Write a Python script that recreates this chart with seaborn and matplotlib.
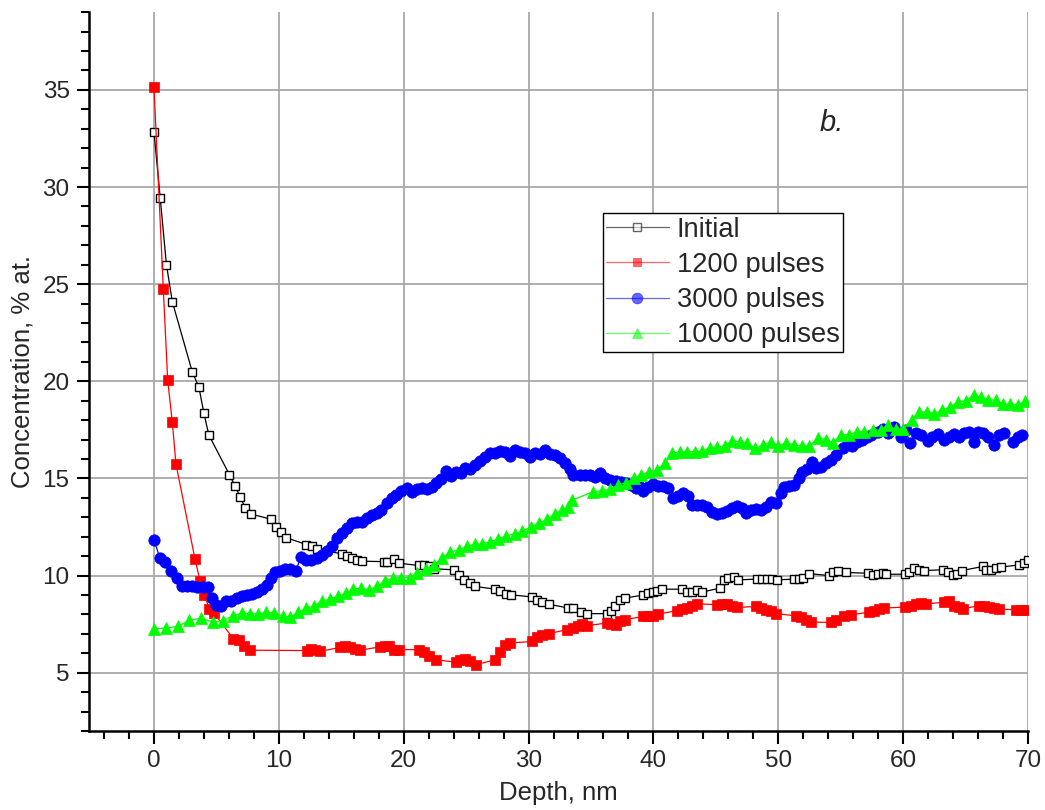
import matplotlib
matplotlib.use("Agg")
import matplotlib.pyplot as plt
from matplotlib.ticker import MultipleLocator
import seaborn as sns
import pandas as pd

# Depth profiles (depth in nm, concentration in % at.)
initial_x = [0.0, 0.5, 1.0, 1.47, 3.07, 3.6, 4.0, 4.4, 6.04, 6.5, 6.9, 7.3, 7.75,
             9.4, 9.75, 10.2, 10.6, 12.2, 12.65, 13.05, 15.05, 15.5, 15.9, 16.3, 16.7,
             18.4, 18.7, 19.2, 19.6, 21.2, 21.6, 22.0, 22.4, 24.0, 24.4, 24.8, 25.3, 25.75,
             27.35, 27.75, 28.2, 28.6, 30.3, 30.7, 31.1, 31.6, 33.2, 33.6, 34.2, 34.7,
             36.25, 36.6, 36.9, 37.3, 37.7, 39.2, 39.6, 39.95, 40.3, 40.7, 42.3, 42.7,
             43.1, 43.5, 43.9, 45.3, 45.65, 45.95, 46.45, 46.8, 48.3, 48.7, 49.1, 49.5,
             49.9, 51.3, 51.7, 52.0, 52.5, 54.1, 54.4, 54.8, 55.4, 57.15, 57.55, 57.95,
             58.35, 58.6, 60.15, 60.5, 60.9, 61.3, 61.7, 63.2, 63.6, 64.0, 64.3, 64.7,
             66.4, 66.6, 67.0, 67.4, 67.85, 69.3, 69.7, 70.0]
initial_y = [32.85, 29.44, 26.0, 24.1, 20.48, 19.7, 18.35, 17.23, 15.2, 14.6, 14.06, 13.5, 13.17,
             12.9, 12.5, 12.25, 11.95, 11.6, 11.5, 11.36, 11.12, 11.03, 10.9, 10.8, 10.74,
             10.72, 10.72, 10.85, 10.64, 10.52, 10.52, 10.47, 10.35, 10.3, 10.04, 9.78, 9.6, 9.44,
             9.3, 9.19, 9.05, 9.01, 8.9, 8.76, 8.64, 8.53, 8.33, 8.33, 8.15, 8.04,
             8.04, 8.2, 8.41, 8.75, 8.84, 9.0, 9.1, 9.18, 9.23, 9.3, 9.3, 9.18,
             9.18, 9.24, 9.15, 9.35, 9.78, 9.87, 9.95, 9.78, 9.82, 9.83, 9.82, 9.82,
             9.78, 9.82, 9.83, 9.88, 10.1, 10.0, 10.2, 10.26, 10.16, 10.12, 10.04, 10.09,
             10.12, 10.07, 10.07, 10.2, 10.38, 10.3, 10.26, 10.3, 10.16, 10.04, 10.1, 10.26,
             10.47, 10.27, 10.3, 10.38, 10.44, 10.55, 10.64, 10.8]

p1200_x = [0.0, 0.75, 1.1, 1.47, 1.76, 3.29, 3.69, 4.04, 4.43, 4.81, 6.36, 6.82, 7.22, 7.7,
           12.25, 12.57, 12.9, 13.3, 14.9, 15.3, 15.7, 16.1, 16.5, 18.1, 18.5, 18.8, 19.25,
           19.6, 21.2, 21.6, 22.0, 22.6, 24.2, 24.5, 24.9, 25.3, 25.8, 27.35, 27.75, 28.15,
           28.55, 30.3, 30.7, 31.1, 31.6, 33.1, 33.55, 33.95, 34.3, 34.7, 36.25, 36.6, 36.97,
           37.3, 37.7, 39.2, 39.6, 40.0, 40.4, 41.9, 42.3, 42.7, 43.1, 43.5, 45.1, 45.5, 45.9,
           46.3, 46.7, 48.2, 48.6, 49.0, 49.4, 49.85, 51.4, 51.8, 52.2, 52.6, 54.2, 54.6,
           55.3, 55.8, 57.3, 57.7, 58.1, 58.5, 60.15, 60.6, 61.0, 61.4, 61.8, 63.3, 63.7,
           64.1, 64.5, 64.8, 66.1, 66.5, 66.9, 67.3, 67.7, 69.05, 69.45, 69.85]
p1200_y = [35.17, 24.73, 20.05, 17.9, 15.75, 10.84, 9.73, 9.01, 8.29, 8.07, 6.75, 6.7, 6.36, 6.16,
           6.14, 6.23, 6.16, 6.1, 6.3, 6.36, 6.31, 6.23, 6.16, 6.33, 6.39, 6.39, 6.19,
           6.19, 6.19, 6.07, 5.88, 5.67, 5.54, 5.67, 5.71, 5.59, 5.42, 5.67, 6.07, 6.44,
           6.53, 6.61, 6.84, 6.96, 7.01, 7.22, 7.3, 7.42, 7.51, 7.42, 7.56, 7.52, 7.47,
           7.64, 7.73, 7.9, 7.93, 7.93, 8.02, 8.2, 8.28, 8.33, 8.41, 8.55, 8.5, 8.55, 8.55,
           8.46, 8.36, 8.41, 8.33, 8.24, 8.16, 8.04, 7.93, 7.85, 7.73, 7.61, 7.59, 7.73,
           7.9, 7.98, 8.12, 8.19, 8.28, 8.33, 8.38, 8.45, 8.53, 8.58, 8.55, 8.62, 8.67,
           8.41, 8.36, 8.28, 8.46, 8.41, 8.36, 8.33, 8.28, 8.24, 8.24, 8.24]

p3000_x = [0.0, 0.48, 0.88, 1.34, 1.82, 2.27, 2.67, 3.07, 3.47, 3.9, 4.3, 4.62, 4.97, 5.37,
           5.77, 6.17, 6.63, 7.03, 7.43, 7.83, 8.23, 8.64, 9.04, 9.38, 9.7, 10.1, 10.5, 10.9,
           11.39, 11.76, 12.17, 12.57, 13.05, 13.45, 13.85, 14.25, 14.65, 15.05, 15.45, 15.85,
           16.25, 16.65, 17.05, 17.45, 17.85, 18.2, 18.65, 19.05, 19.4, 19.8, 20.25, 20.65,
           21.05, 21.47, 21.87, 22.27, 22.6, 23.0, 23.4, 23.8, 24.2, 24.6, 24.94, 25.34, 25.74,
           26.14, 26.54, 26.94, 27.35, 27.75, 28.15, 28.55, 28.95, 29.35, 29.75, 30.1, 30.5,
           30.9, 31.3, 31.7, 32.1, 32.5, 32.9, 33.3, 33.6, 34.1, 34.5, 34.95, 35.35, 35.75,
           36.15, 36.55, 36.97, 37.4, 37.8, 38.2, 38.57, 38.9, 39.2, 39.6, 40.0, 40.4, 40.8,
           41.2, 41.6, 42.0, 42.4, 42.8, 43.1, 43.5, 43.9, 44.3, 44.7, 45.07, 45.47, 45.9,
           46.3, 46.7, 47.07, 47.4, 47.8, 48.2, 48.6, 49.0, 49.4, 49.8, 50.2, 50.5, 50.87,
           51.27, 51.67, 51.94, 52.34, 52.74, 53.0, 53.4, 53.8, 54.2, 54.6, 55.15, 55.55,
           55.87, 56.27, 56.7, 57.1, 57.4, 57.95, 58.35, 58.8, 59.3, 59.8, 60.2, 60.57, 61.0,
           61.4, 61.97, 62.3, 62.8, 63.3, 63.7, 64.1, 64.5, 64.9, 65.25, 65.65, 65.97, 66.4,
           66.8, 67.3, 67.7, 68.1, 68.8, 69.2, 69.5]
p3000_y = [11.84, 10.9, 10.7, 10.26, 9.9, 9.44, 9.44, 9.44, 9.41, 9.41, 9.39, 8.84, 8.5, 8.41,
           8.67, 8.71, 8.84, 8.93, 8.98, 9.06, 9.18, 9.3, 9.52, 9.87, 10.16, 10.26, 10.33, 10.35,
           10.26, 10.98, 10.81, 10.78, 10.9, 11.07, 11.27, 11.53, 11.92, 12.18, 12.44, 12.7,
           12.78, 12.78, 12.95, 13.12, 13.24, 13.38, 13.72, 13.98, 14.15, 14.37, 14.49, 14.32,
           14.44, 14.49, 14.44, 14.58, 14.78, 14.95, 15.38, 15.12, 15.35, 15.26, 15.52, 15.47, 15.69,
           15.89, 16.12, 16.29, 16.32, 16.42, 16.37, 16.15, 16.46, 16.37, 16.29, 16.08, 16.29,
           16.24, 16.46, 16.24, 16.2, 16.03, 15.77, 15.48, 15.17, 15.17, 15.17, 15.17, 15.09, 15.26,
           15.0, 14.92, 14.87, 14.83, 14.75, 14.66, 14.49, 14.54, 14.35, 14.57, 14.71, 14.6, 14.6,
           14.49, 13.98, 14.1, 14.23, 14.1, 13.63, 13.63, 13.63, 13.55, 13.29, 13.17, 13.24, 13.33,
           13.46, 13.58, 13.46, 13.24, 13.38, 13.41, 13.38, 13.55, 13.81, 13.76, 14.23, 14.54, 14.61,
           14.66, 15.04, 15.35, 15.47, 15.86, 15.52, 15.57, 15.78, 15.95, 16.2, 16.55, 16.81,
           16.67, 16.89, 17.0, 17.11, 17.23, 17.4, 17.52, 17.32, 17.66, 17.14, 17.49, 16.8, 17.32,
           17.23, 16.92, 17.14, 17.28, 16.97, 17.11, 17.28, 17.14, 17.32, 17.4, 16.89, 17.4, 17.32,
           17.11, 16.72, 17.23, 17.32, 16.89, 17.14, 17.23]

p10000_x = [0.0, 0.96, 1.9, 2.83, 3.77, 4.7, 5.56, 6.3, 7.03, 7.7, 8.37, 9.0, 9.65, 10.3,
            10.9, 11.57, 12.19, 12.83, 13.45, 14.06, 14.7, 15.37, 15.98, 16.6, 17.24, 17.9,
            18.5, 19.15, 19.8, 20.5, 21.1, 21.8, 22.45, 23.07, 23.7, 24.4, 25.1, 25.7, 26.3,
            26.95, 27.56, 28.2, 28.9, 29.5, 30.2, 30.87, 31.5, 32.1, 32.7, 33.15, 33.5, 35.2,
            35.9, 36.5, 37.15, 37.8, 38.44, 39.0, 39.65, 40.3, 40.9, 41.5, 42.1, 42.7, 43.3,
            43.9, 44.5, 45.07, 45.7, 46.3, 46.9, 47.5, 48.15, 48.8, 49.4, 50.0, 50.65, 51.27,
            51.9, 52.5, 53.2, 53.8, 54.4, 55.0, 55.7, 56.3, 56.9, 57.55, 58.2, 58.75, 59.4,
            60.0, 60.7, 61.3, 61.9, 62.5, 63.1, 63.75, 64.4, 65.0, 65.65, 66.2, 66.8, 67.4,
            68.0, 68.6, 69.2, 69.77]
p10000_y = [7.25, 7.3, 7.38, 7.69, 7.81, 7.61, 7.68, 7.93, 8.07, 8.04, 8.02, 8.11, 8.07, 7.93,
            7.87, 8.11, 8.31, 8.45, 8.67, 8.79, 8.93, 9.1, 9.3, 9.36, 9.27, 9.44,
            9.73, 9.87, 9.9, 9.9, 10.13, 10.33, 10.55, 10.93, 11.2, 11.32, 11.5, 11.61, 11.63,
            11.75, 11.87, 12.04, 12.15, 12.27, 12.52, 12.7, 12.9, 13.16, 13.38, 13.52, 13.89, 14.32,
            14.37, 14.44, 14.66, 14.78, 15.0, 15.17, 15.35, 15.43, 15.8, 16.29, 16.37, 16.37, 16.37,
            16.41, 16.55, 16.63, 16.66, 16.94, 16.89, 16.84, 16.55, 16.72, 16.89, 16.66, 16.84, 16.72,
            16.66, 16.68, 17.09, 17.0, 16.84, 17.23, 17.26, 17.4, 17.4, 17.49, 17.49, 17.74, 17.52,
            17.57, 18.03, 18.42, 18.42, 18.34, 18.51, 18.68, 18.94, 18.99, 19.28, 19.2, 19.06, 19.03,
            18.82, 18.82, 18.77, 18.99]

series_names = ["Initial", "1200 pulses", "3000 pulses", "10000 pulses"]
x_ticks = [0, 10, 20, 30, 40, 50, 60, 70]
y_ticks = [5, 10, 15, 20, 25, 30, 35]

sns.set_theme(style="white")
plt.rcParams["font.family"] = ["Liberation Sans", "DejaVu Sans"]

fig = plt.figure(figsize=(10.45, 8.1), dpi=100)
ax = fig.add_axes([0.0852, 0.0975, 0.8985, 0.8875])

styles = [
    dict(color="black", marker="s", mfc="white", mec="black", ms=6.2, mew=1.0),
    dict(color="red", marker="s", mfc="red", mec="red", ms=6.6, mew=0.5),
    dict(color="blue", marker="o", mfc="blue", mec="blue", ms=8.2, mew=0.5),
    dict(color="#00ff00", marker="^", mfc="#00ff00", mec="#00ff00", ms=8.2, mew=0.5),
]
data = [(initial_x, initial_y), (p1200_x, p1200_y), (p3000_x, p3000_y), (p10000_x, p10000_y)]

for name, (xs, ys), st in zip(series_names, data, styles):
    df = pd.DataFrame({"depth": xs, "conc": ys})
    sns.lineplot(data=df, x="depth", y="conc", ax=ax, sort=False, estimator=None,
                 color=st["color"], marker=st["marker"], markersize=st["ms"],
                 markerfacecolor=st["mfc"], markeredgecolor=st["mec"],
                 markeredgewidth=st["mew"], linewidth=0.9, label=name, zorder=3)

ax.set_xlim(-5.2, 70)
ax.set_ylim(2, 39)
ax.xaxis.set_minor_locator(MultipleLocator(2))
ax.yaxis.set_minor_locator(MultipleLocator(1))
ax.set_xticks(x_ticks)
ax.set_yticks(y_ticks)

ax.grid(True, which="major", color="#a8a8a8", linewidth=1.3, zorder=0)
ax.set_axisbelow(True)

for side in ["top", "right"]:
    ax.spines[side].set_visible(False)
for side in ["left", "bottom"]:
    ax.spines[side].set_color("black")
    ax.spines[side].set_linewidth(1.8)

ax.tick_params(which="major", direction="out", length=9, width=1.5, color="black",
               left=True, bottom=True, labelsize=17.5, pad=5)
ax.tick_params(which="minor", direction="out", length=6, width=1.5, color="black",
               left=True, bottom=True)

ax.set_xlabel("Depth, nm", fontsize=18.5, labelpad=6)
ax.set_ylabel("Concentration, % at.", fontsize=18.5, labelpad=6)

ax.text(54.3, 33.3, "b.", fontsize=21, style="italic", ha="center", va="center")

leg = ax.legend(loc="upper left", bbox_to_anchor=(0.547, 0.720), fontsize=19.6,
                frameon=True, fancybox=False, framealpha=1, edgecolor="black",
                handlelength=2.3, handletextpad=0.3, borderpad=0.12, labelspacing=0.34,
                borderaxespad=0)
leg.get_frame().set_linewidth(1.0)
for h in leg.get_lines():
    h.set_alpha(0.6)
    h.set_markersize(h.get_markersize() * 0.95)

fig.savefig("out.png", dpi=100, facecolor="white")
